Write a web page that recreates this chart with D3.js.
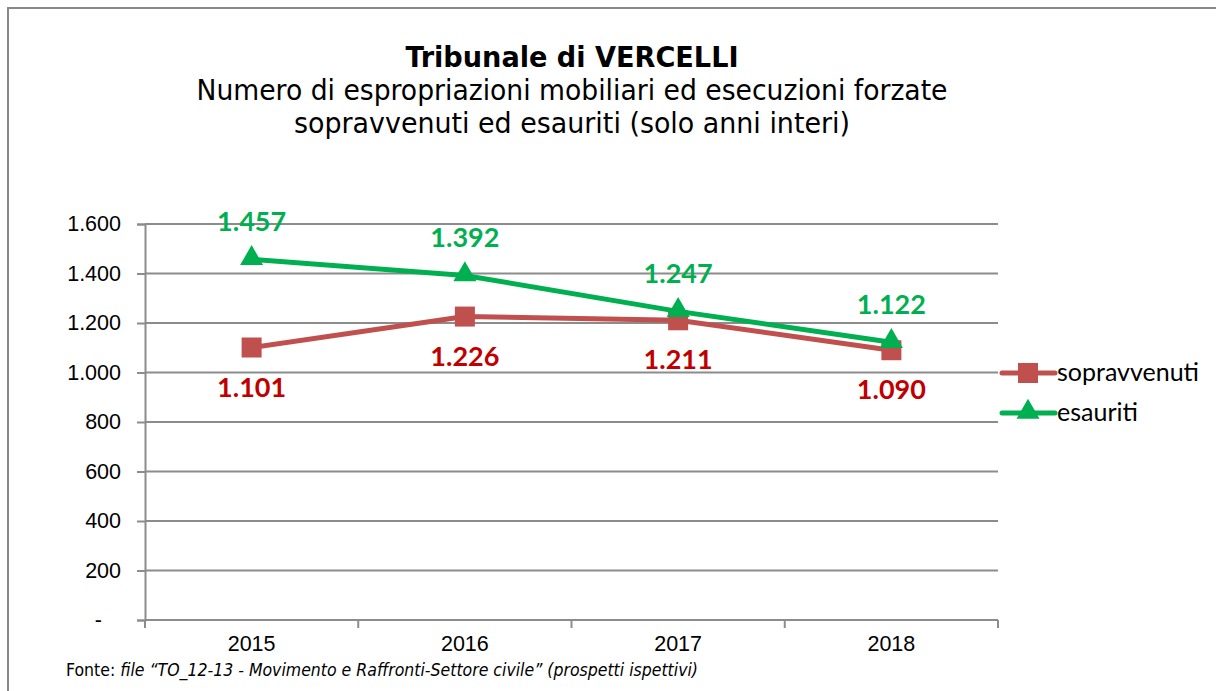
<!DOCTYPE html>
<html>
<head>
<meta charset="utf-8">
<script src="https://cdn.jsdelivr.net/npm/d3@7"></script>
<style>
  body { margin: 0; background: #fff; }
</style>
</head>
<body>
<div id="chart"></div>
<script>
var years = ["2015", "2016", "2017", "2018"];
var sopravvenuti = [1101, 1226, 1211, 1090];
var esauriti = [1457, 1392, 1247, 1122];
var yTicks = [0, 200, 400, 600, 800, 1000, 1200, 1400, 1600];
var seriesNames = ["sopravvenuti", "esauriti"];

var svgWidth = 1216, svgHeight = 691;
var margin = { top: 224, right: 218, bottom: 71, left: 145 };
var width = svgWidth - margin.left - margin.right;
var height = svgHeight - margin.top - margin.bottom;

var fmt = function(v) { return v === 0 ? "-" : d3.format(",")(v).replace(/,/g, "."); };

var svg = d3.select("#chart").append("svg")
  .attr("width", svgWidth)
  .attr("height", svgHeight);

// frame (only top and left visible)
svg.append("path")
  .attr("d", "M8," + svgHeight + "V8H" + svgWidth)
  .attr("fill", "none")
  .attr("stroke", "#888")
  .attr("stroke-width", 2);

// titles
var titleFont = "DejaVu Sans Condensed, DejaVu Sans";
svg.append("text")
  .attr("x", 572).attr("y", 67)
  .attr("text-anchor", "middle")
  .attr("font-family", titleFont)
  .attr("font-weight", "bold")
  .attr("font-size", 28)
  .attr("textLength", 333)
  .attr("lengthAdjust", "spacingAndGlyphs")
  .text("Tribunale di VERCELLI");
svg.append("text")
  .attr("x", 572).attr("y", 100)
  .attr("text-anchor", "middle")
  .attr("font-family", titleFont)
  .attr("font-size", 28)
  .attr("textLength", 751)
  .attr("lengthAdjust", "spacingAndGlyphs")
  .text("Numero di espropriazioni mobiliari ed esecuzioni forzate");
svg.append("text")
  .attr("x", 572).attr("y", 133)
  .attr("text-anchor", "middle")
  .attr("font-family", titleFont)
  .attr("font-size", 28)
  .attr("textLength", 556)
  .attr("lengthAdjust", "spacingAndGlyphs")
  .text("sopravvenuti ed esauriti (solo anni interi)");

var g = svg.append("g")
  .attr("transform", "translate(" + margin.left + "," + margin.top + ")");

var x = d3.scaleBand().domain(years).range([0, width]);
var y = d3.scaleLinear().domain([0, 1600]).range([height, 0]);

// gridlines
g.append("g")
  .selectAll("line")
  .data(yTicks.slice(1))
  .enter().append("line")
  .attr("x1", 0).attr("x2", width)
  .attr("y1", function(d) { return y(d); })
  .attr("y2", function(d) { return y(d); })
  .attr("stroke", "#8c8c8c")
  .attr("stroke-width", 2);

// y axis
var yAxis = g.append("g")
  .call(d3.axisLeft(y).tickValues(yTicks).tickFormat(fmt).tickSize(8).tickPadding(16));
yAxis.select(".domain").attr("stroke", "#8c8c8c").attr("stroke-width", 2);
yAxis.selectAll(".tick line").attr("stroke", "#8c8c8c").attr("stroke-width", 2);
yAxis.selectAll("text")
  .attr("font-family", "Liberation Sans, Arial")
  .attr("font-size", 21.5)
  .attr("fill", "#000");
// zero shown as a dash, set in like Excel's accounting format
yAxis.selectAll(".tick").filter(function(d) { return d === 0; })
  .select("text").attr("dx", -19);

// x axis
var xAxis = g.append("g")
  .attr("transform", "translate(0," + height + ")")
  .call(d3.axisBottom(x).tickSize(0).tickPadding(16));
xAxis.select(".domain").remove();
g.append("line")
  .attr("x1", 0).attr("x2", width)
  .attr("y1", height).attr("y2", height)
  .attr("stroke", "#8c8c8c").attr("stroke-width", 2);
g.append("g").selectAll("line")
  .data(d3.range(years.length + 1))
  .enter().append("line")
  .attr("x1", function(i) { return i * x.step(); })
  .attr("x2", function(i) { return i * x.step(); })
  .attr("y1", height).attr("y2", height + 8)
  .attr("stroke", "#8c8c8c").attr("stroke-width", 2);
xAxis.selectAll("text")
  .attr("font-family", "Liberation Sans, Arial")
  .attr("font-size", 21.5)
  .attr("fill", "#000");

var cx = function(i) { return x(years[i]) + x.bandwidth() / 2; };

var line = d3.line()
  .x(function(d, i) { return cx(i); })
  .y(function(d) { return y(d); });

var redLine = "#C0504D", redLabel = "#C00000", green = "#00B050";

// sopravvenuti
g.append("path")
  .datum(sopravvenuti)
  .attr("fill", "none")
  .attr("stroke", redLine)
  .attr("stroke-width", 5)
  .attr("stroke-linejoin", "round")
  .attr("d", line);
g.selectAll(".sq")
  .data(sopravvenuti)
  .enter().append("rect")
  .attr("x", function(d, i) { return cx(i) - 10; })
  .attr("y", function(d) { return y(d) - 10; })
  .attr("width", 20).attr("height", 20)
  .attr("fill", redLine);

// esauriti
g.append("path")
  .datum(esauriti)
  .attr("fill", "none")
  .attr("stroke", green)
  .attr("stroke-width", 5)
  .attr("stroke-linejoin", "round")
  .attr("d", line);
var tri = d3.symbol().type(d3.symbolTriangle).size(230);
g.selectAll(".tri")
  .data(esauriti)
  .enter().append("path")
  .attr("d", tri)
  .attr("transform", function(d, i) { return "translate(" + cx(i) + "," + (y(d) - 1) + ")"; })
  .attr("fill", green);

// data labels
g.selectAll(".lblR")
  .data(sopravvenuti)
  .enter().append("text")
  .attr("x", function(d, i) { return cx(i); })
  .attr("y", function(d) { return y(d) + 49; })
  .attr("text-anchor", "middle")
  .attr("font-family", "Lato, Open Sans")
  .attr("font-weight", "bold")
  .attr("font-size", 27)
  .attr("fill", redLabel)
  .text(fmt);
g.selectAll(".lblG")
  .data(esauriti)
  .enter().append("text")
  .attr("x", function(d, i) { return cx(i); })
  .attr("y", function(d) { return y(d) - 28; })
  .attr("text-anchor", "middle")
  .attr("font-family", "Lato, Open Sans")
  .attr("font-weight", "bold")
  .attr("font-size", 27)
  .attr("fill", green)
  .text(fmt);

// legend
var legend = svg.append("g").attr("transform", "translate(1000,0)");
var legY = [373, 413];
seriesNames.forEach(function(name, i) {
  var col = i === 0 ? redLine : green;
  legend.append("line")
    .attr("x1", 2).attr("x2", 55)
    .attr("y1", legY[i]).attr("y2", legY[i])
    .attr("stroke", col).attr("stroke-width", 5)
    .attr("stroke-linecap", "round");
  if (i === 0) {
    legend.append("rect")
      .attr("x", 18).attr("y", legY[i] - 10)
      .attr("width", 20).attr("height", 20)
      .attr("fill", col);
  } else {
    legend.append("path")
      .attr("d", tri)
      .attr("transform", "translate(28," + (legY[i] - 1) + ")")
      .attr("fill", col);
  }
  legend.append("text")
    .attr("x", 57).attr("y", legY[i] + 8)
    .attr("font-family", "Lato, Open Sans")
    .attr("font-size", 25)
    .attr("fill", "#000")
    .text(name);
});

// footer
var foot = svg.append("text")
  .attr("x", 66).attr("y", 676)
  .attr("font-family", titleFont)
  .attr("font-size", 17.5)
  .attr("fill", "#000");
foot.append("tspan").text("Fonte: ");
foot.append("tspan").attr("font-style", "italic")
  .text("file \u201cTO_12-13 - Movimento e Raffronti-Settore civile\u201d (prospetti ispettivi)");
</script>
</body>
</html>
